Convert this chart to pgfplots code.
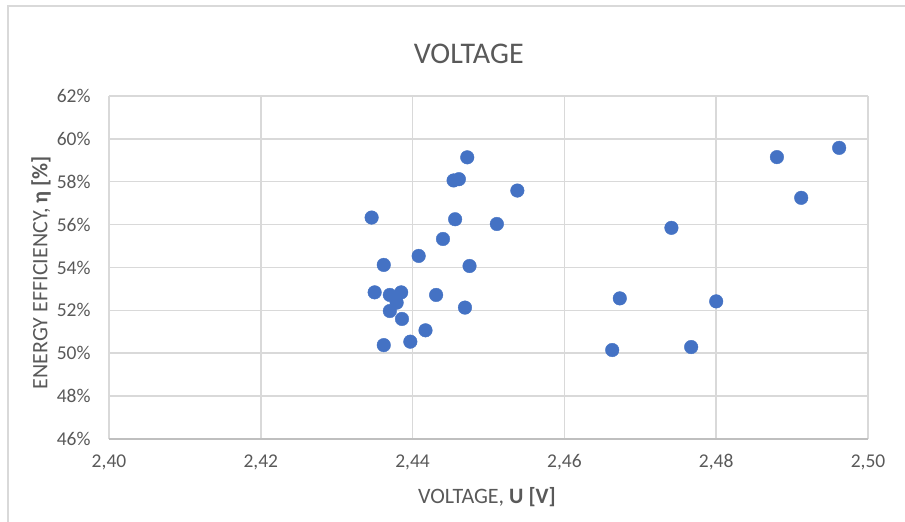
\documentclass[border=0pt]{standalone}
\usepackage{fontspec}
\setmainfont{Carlito}
\usepackage{pgfplots}
\pgfplotsset{compat=1.18}
\definecolor{txt}{HTML}{595959}
\definecolor{gridc}{HTML}{D9D9D9}
\definecolor{axc}{HTML}{BFBFBF}
\definecolor{dot}{HTML}{4472C4}
\begin{document}
\begin{tikzpicture}
% canvas in px-like units
\useasboundingbox (0pt,0pt) rectangle (905pt,522pt);
\draw[gridc, line width=1.5pt] (8pt,0pt) -- (8pt,516pt) -- (905pt,516pt);
\begin{axis}[
  name=ax,
  at={(109pt,83pt)}, anchor=south west,
  scale only axis,
  width=759pt, height=343pt,
  xmin=2.40, xmax=2.50,
  ymin=46, ymax=62,
  xtick={2.40,2.42,2.44,2.46,2.48,2.50},
  ytick={46,48,50,52,54,56,58,60,62},
  grid=major,
  major grid style={gridc, line width=1.5pt},
  axis x line*=bottom,
  axis y line*=left,
  x axis line style={axc, line width=1.5pt, -},
  y axis line style={draw=none},
  major tick length=0pt,
  /pgf/number format/assume math mode=true,
  xticklabel style={font=\fontsize{19.5}{22}\selectfont, text=txt, yshift=-12pt,
    /pgf/number format/.cd, fixed, fixed zerofill, precision=2, use comma},
  yticklabel={\pgfmathprintnumber{\tick}\%},
  yticklabel style={font=\fontsize{19.5}{22}\selectfont, text=txt, xshift=-15pt},
  clip=false,
]
\addplot[only marks, mark=*, mark size=6.8pt, dot, mark options={fill=dot, draw=dot}] table {
x y
2.4346 56.33
2.4362 54.12
2.4350 52.84
2.4370 52.72
2.4385 52.84
2.4379 52.36
2.4370 51.97
2.4386 51.60
2.4362 50.38
2.4397 50.54
2.4417 51.07
2.4408 54.54
2.4431 52.72
2.4440 55.33
2.4456 56.25
2.4454 58.06
2.4461 58.12
2.4472 59.14
2.4475 54.07
2.4469 52.13
2.4511 56.03
2.4538 57.59
2.4663 50.15
2.4673 52.56
2.4741 55.85
2.4767 50.29
2.4800 52.42
2.4880 59.15
2.4912 57.25
2.4962 59.58
};
\node[anchor=base, text=txt, font=\fontsize{30}{34}\selectfont] at (axis description cs:0.474,1.096) {VOLTAGE};
\node[anchor=base, text=txt, font=\fontsize{22}{26}\selectfont] at (axis description cs:0.498,-0.1895) {VOLTAGE, \textbf{U [V]}};
\node[rotate=90, anchor=center, text=txt, font=\fontsize{22}{26}\selectfont] at (axis description cs:-0.0895,0.485) {ENERGY EFFICIENCY, \textbf{η [\%]}};
\end{axis}
\end{tikzpicture}
\end{document}
